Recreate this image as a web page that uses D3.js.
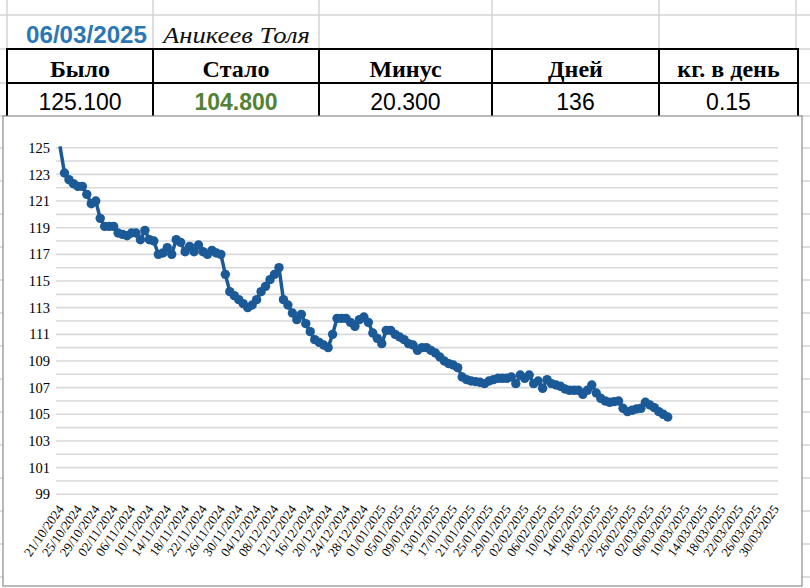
<!DOCTYPE html>
<html>
<head>
<meta charset="utf-8">
<script src="https://cdn.jsdelivr.net/npm/d3@7"></script>
<style>
  body { margin: 0; background: #fff; }
  svg { display: block; }
</style>
</head>
<body>
<svg id="chart" width="810" height="588"></svg>
<script>
// header table
const reportDate = "06/03/2025";
const personName = "Аникеев Толя";
const headers = ["Было", "Стало", "Минус", "Дней", "кг. в день"];
const summary = ["125.100", "104.800", "20.300", "136", "0.15"];

// weight, one reading per day from 21/10/2024
const startDate = "2024-10-21";
const weights = [
  125.1, 123.1, 122.6, 122.3, 122.1, 122.1, 121.5, 120.8, 121.0, 119.7,
  119.1, 119.1, 119.1, 118.6, 118.5, 118.4, 118.6, 118.6, 118.1, 118.8,
  118.1, 118.0, 117.0, 117.1, 117.5, 117.0, 118.1, 117.9, 117.2, 117.6,
  117.2, 117.7, 117.2, 117.0, 117.3, 117.1, 117.0, 115.5, 114.2, 113.9,
  113.6, 113.3, 113.0, 113.2, 113.6, 114.2, 114.6, 115.1, 115.5, 116.0,
  113.6, 113.2, 112.6, 112.1, 112.5, 111.8, 111.2, 110.6, 110.4, 110.2,
  110.0, 111.0, 112.2, 112.2, 112.2, 111.9, 111.6, 112.1, 112.3, 111.9,
  111.1, 110.7, 110.3, 111.3, 111.3, 111.0, 110.8, 110.6, 110.3, 110.2,
  109.8, 110.0, 110.0, 109.8, 109.6, 109.3, 109.0, 108.8, 108.7, 108.5,
  107.8, 107.6, 107.5, 107.45, 107.4, 107.3, 107.5, 107.6, 107.7, 107.7,
  107.7, 107.8, 107.3, 107.95, 107.7, 107.95, 107.3, 107.5, 106.95, 107.6,
  107.3, 107.2, 107.1, 106.9, 106.8, 106.8, 106.8, 106.5, 106.8, 107.2,
  106.6, 106.2, 106.0, 105.9, 105.95, 106.0, 105.45, 105.2, 105.3, 105.4,
  105.45, 105.9, 105.7, 105.5, 105.2, 105.0, 104.8
];

const xTickLabels = [
  "21/10/2024", "25/10/2024", "29/10/2024", "02/11/2024", "06/11/2024",
  "10/11/2024", "14/11/2024", "18/11/2024", "22/11/2024", "26/11/2024",
  "30/11/2024", "04/12/2024", "08/12/2024", "12/12/2024", "16/12/2024",
  "20/12/2024", "24/12/2024", "28/12/2024", "01/01/2025", "05/01/2025",
  "09/01/2025", "13/01/2025", "17/01/2025", "21/01/2025", "25/01/2025",
  "29/01/2025", "02/02/2025", "06/02/2025", "10/02/2025", "14/02/2025",
  "18/02/2025", "22/02/2025", "26/02/2025", "02/03/2025", "06/03/2025",
  "10/03/2025", "14/03/2025", "18/03/2025", "22/03/2025", "26/03/2025",
  "30/03/2025"
];
const yTicks = [99, 101, 103, 105, 107, 109, 111, 113, 115, 117, 119, 121, 123, 125];

const svg = d3.select("#chart");
const sheetGrid = "#d4d4d4";
const lineColor = "#1b5a97";
const serif = "Liberation Serif, Times New Roman, serif";
const sans = "Liberation Sans, Arial, sans-serif";

// spreadsheet background grid
[15, 49, 83, 116].forEach(y => {
    svg.append("line").attr("x1", 0).attr("x2", 810).attr("y1", y).attr("y2", y)
        .attr("stroke", sheetGrid).attr("stroke-width", 1.5);
});
[7, 153, 319, 492, 659, 796].forEach(x => {
    svg.append("line").attr("x1", x).attr("x2", x).attr("y1", 0).attr("y2", 49)
        .attr("stroke", sheetGrid).attr("stroke-width", 1.5);
});
[148, 181, 214, 247, 280, 313, 346, 379, 412, 445, 478, 511, 544, 577].forEach(y => {
    svg.append("line").attr("x1", 0).attr("x2", 3).attr("y1", y).attr("y2", y)
        .attr("stroke", sheetGrid).attr("stroke-width", 1.5);
    svg.append("line").attr("x1", 802).attr("x2", 810).attr("y1", y).attr("y2", y)
        .attr("stroke", sheetGrid).attr("stroke-width", 1.5);
});

// title row
svg.append("text").attr("x", 26).attr("y", 43).text(reportDate)
    .attr("font-family", sans).attr("font-weight", "bold")
    .attr("font-size", 23).attr("fill", "#2b77b5")
    .attr("textLength", 121).attr("lengthAdjust", "spacingAndGlyphs");
svg.append("text").attr("x", 163).attr("y", 43).text(personName)
    .attr("font-family", serif).attr("font-style", "italic")
    .attr("font-size", 24).attr("fill", "#111")
    .attr("textLength", 147).attr("lengthAdjust", "spacingAndGlyphs");

// table
const colEdges = [7, 153, 319, 492, 659, 798];
const table = svg.append("g");
table.append("rect").attr("x", 7).attr("y", 49).attr("width", 791).attr("height", 70)
    .attr("fill", "#fff").attr("stroke", "#000").attr("stroke-width", 2);
table.append("line").attr("x1", 7).attr("x2", 798).attr("y1", 83).attr("y2", 83)
    .attr("stroke", "#000").attr("stroke-width", 2);
colEdges.slice(1, -1).forEach(x => {
    table.append("line").attr("x1", x).attr("x2", x).attr("y1", 49).attr("y2", 119)
        .attr("stroke", "#000").attr("stroke-width", 2);
});
headers.forEach((h, i) => {
    table.append("text").attr("x", (colEdges[i] + colEdges[i + 1]) / 2).attr("y", 77)
        .attr("text-anchor", "middle").text(h)
        .attr("font-family", serif)
        .attr("font-weight", "bold").attr("font-size", 24).attr("fill", "#000");
});
summary.forEach((s, i) => {
    table.append("text").attr("x", (colEdges[i] + colEdges[i + 1]) / 2).attr("y", 110)
        .attr("text-anchor", "middle").text(s)
        .attr("font-family", sans)
        .attr("font-weight", i === 1 ? "bold" : "normal")
        .attr("font-size", 23).attr("fill", i === 1 ? "#548235" : "#000");
});

// chart box
svg.append("rect").attr("x", 3).attr("y", 116).attr("width", 799).attr("height", 470)
    .attr("fill", "#fff").attr("stroke", "#8c8c8c").attr("stroke-width", 1.2);

const parse = d3.timeParse("%Y-%m-%d");
const parseTick = d3.timeParse("%d/%m/%Y");
const t0 = parse(startDate);
const data = weights.map((w, i) => ({ date: d3.timeDay.offset(t0, i), value: w }));
const tickDates = xTickLabels.map(parseTick);

const x = d3.scaleTime()
    .domain([tickDates[0], tickDates[tickDates.length - 1]])
    .range([60, 775]);
const y = d3.scaleLinear().domain([99, 125]).range([494.3, 147.7]);

// horizontal gridlines every 1 kg
svg.append("g").selectAll("line")
    .data(d3.range(99, 126))
    .join("line")
    .attr("x1", 56).attr("x2", 778)
    .attr("y1", d => y(d)).attr("y2", d => y(d))
    .attr("stroke", "#d9d9d9").attr("stroke-width", 1.6);

// y axis labels
const yAxis = svg.append("g").attr("transform", "translate(50,0)")
    .call(d3.axisLeft(y).tickValues(yTicks).tickSize(0).tickPadding(0).tickFormat(d3.format("d")));
yAxis.select(".domain").remove();
yAxis.selectAll("text")
    .attr("font-family", serif)
    .attr("font-size", 14.5).attr("fill", "#000");

// x axis labels
const xAxis = svg.append("g").attr("transform", "translate(0,494)")
    .call(d3.axisBottom(x).tickValues(tickDates).tickSize(0).tickFormat(d3.timeFormat("%d/%m/%Y")));
xAxis.select(".domain").remove();
xAxis.selectAll("text")
    .attr("x", 0).attr("y", 0).attr("dy", 0)
    .attr("text-anchor", "end")
    .attr("transform", "translate(4,15) rotate(-55)")
    .attr("font-family", serif)
    .attr("font-size", 13).attr("fill", "#000");

// weight line and markers
const line = d3.line().x(d => x(d.date)).y(d => y(d.value));
svg.append("path").datum(data)
    .attr("d", line).attr("fill", "none")
    .attr("stroke", lineColor).attr("stroke-width", 3.5).attr("stroke-linejoin", "round");
svg.append("g").selectAll("circle")
    .data(data.slice(1))
    .join("circle")
    .attr("cx", d => x(d.date)).attr("cy", d => y(d.value))
    .attr("r", 4.7).attr("fill", lineColor);
</script>
</body>
</html>
